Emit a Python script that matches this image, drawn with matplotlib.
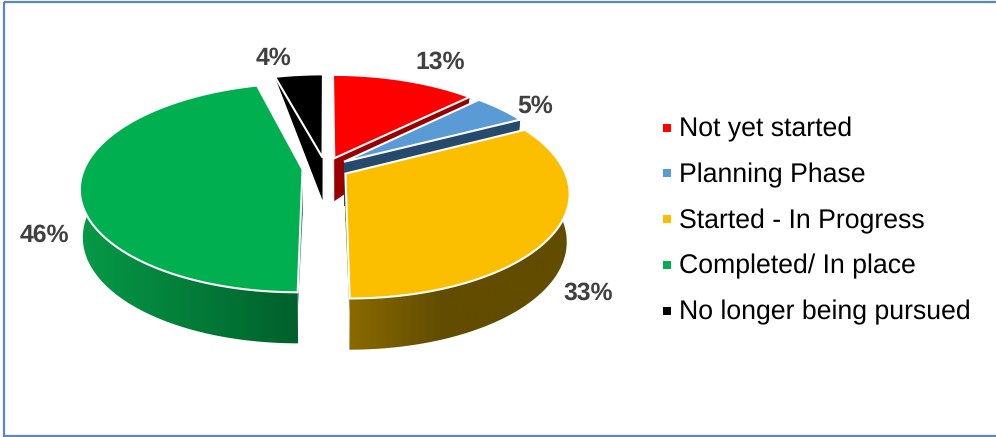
import numpy as np
import matplotlib
matplotlib.use("Agg")
import matplotlib.pyplot as plt
from matplotlib.colors import LinearSegmentedColormap
from matplotlib.patches import Polygon, Rectangle

plt.rcParams['font.family'] = ['Liberation Sans', 'DejaVu Sans']
plt.rcParams['text.hinting'] = 'none'

categories = ["Not yet started", "Planning Phase", "Started - In Progress",
              "Completed/ In place", "No longer being pursued"]
percent = [12.6, 4.8, 32.6, 45.8, 4.2]

top_colors = ["#ff0000", "#5b9bd5", "#fcbf00", "#00b050", "#000000"]
cut_colors = ["#990000", "#264a6b", "#8a6a00", "#00803c", "#000000"]
wall_left = ["#990000", "#264a6b", "#8a6a00", "#069a48", "#000000"]
wall_right = ["#990000", "#264a6b", "#614c00", "#00602b", "#000000"]
shade_end = [1, 1, 0.42, 1, 1]
label_xy = [(440, 62), (535, 106), (588, 293), (44, 235), (274, 58)]

# pie geometry, in pixels
cx, cy = 325.5, 168
rx, ry = 218, 101
persp = 5.76
explode = 0.106
taper = 0.988


def depth(Y):
    # side walls get shallower toward the back of the pie
    return np.where(Y >= 0, 47 + 4 * Y, 47 + 42 * Y)


def project(theta, r, mid):
    X = explode * np.sin(mid) + r * np.sin(theta)
    Y = -explode * np.cos(mid) - r * np.cos(theta)
    s = persp / (persp - Y)
    return cx + rx * X * s, cy + ry * Y * s, depth(Y), Y


fig = plt.figure(figsize=(9.96, 4.37), dpi=100)
ax = fig.add_axes([0, 0, 1, 1])
ax.axis("off")

edges = np.cumsum([0] + percent) / sum(percent) * 2 * np.pi

# back slices first so the nearer ones cover them
for n, i in enumerate([4, 0, 1, 3, 2]):
    z = 10 * (n + 1)
    t0, t1 = edges[i], edges[i + 1]
    mid = (t0 + t1) / 2
    th = np.linspace(t0, t1, 200)
    x, y, d, Y = project(th, 1.0, mid)
    ox, oy, od, _ = project(mid, 0.0, mid)
    xb = cx + (x - cx) * taper
    yb = y + d

    # outer wall, shaded left to right
    wall = Polygon(np.column_stack([np.r_[x, xb[::-1]], np.r_[y, yb[::-1]]]),
                   fc="none", ec="none", zorder=z)
    ax.add_patch(wall)
    cmap = LinearSegmentedColormap.from_list(
        "wall", [(0, wall_left[i]), (shade_end[i], wall_right[i]), (1, wall_right[i])])
    grad = np.linspace(0, 1, 256).reshape(1, -1)
    im = ax.imshow(grad, cmap=cmap, extent=(x.min() - 2, x.max() + 2, 437, 0),
                   aspect="auto", zorder=z)
    im.set_clip_path(wall)

    # cut faces; the front ones only show as a thin sliver
    for j in [0, -1]:
        rim_d = 14 if Y[j] > 0.9 else d[j]
        face = [(ox, oy), (x[j], y[j]), (xb[j], y[j] + rim_d), (ox, oy + od)]
        ax.add_patch(Polygon(face, fc=cut_colors[i], ec="none", zorder=z + 1))

    # top face
    outline = np.column_stack([np.r_[ox, x], np.r_[oy, y]])
    ax.add_patch(Polygon(outline, closed=True, fc=top_colors[i], ec="white",
                         lw=1.5, joinstyle="miter", zorder=z + 2))

ax.set_xlim(0, 996)
ax.set_ylim(437, 0)

# frame runs off the right side
ax.add_patch(Rectangle((3.5, 2), 1010, 433.5, fill=False, ec="#5b86c0", lw=1.6, zorder=100))

for p, (lx, ly) in zip(percent, label_xy):
    ax.text(lx, ly, f"{p:.0f}%", ha="center", va="center", fontsize=17.8,
            fontweight="bold", color="#404040", zorder=100)

for i, name in enumerate(categories):
    ly = 127.5 + i * 45.8
    ax.add_patch(Rectangle((663, ly - 4), 8, 8, fc=top_colors[i], ec="none", zorder=100))
    ax.text(679, ly + 2, name, ha="left", va="center", fontsize=19.2,
            color="black", zorder=100)

fig.savefig("out.png", dpi=100)
